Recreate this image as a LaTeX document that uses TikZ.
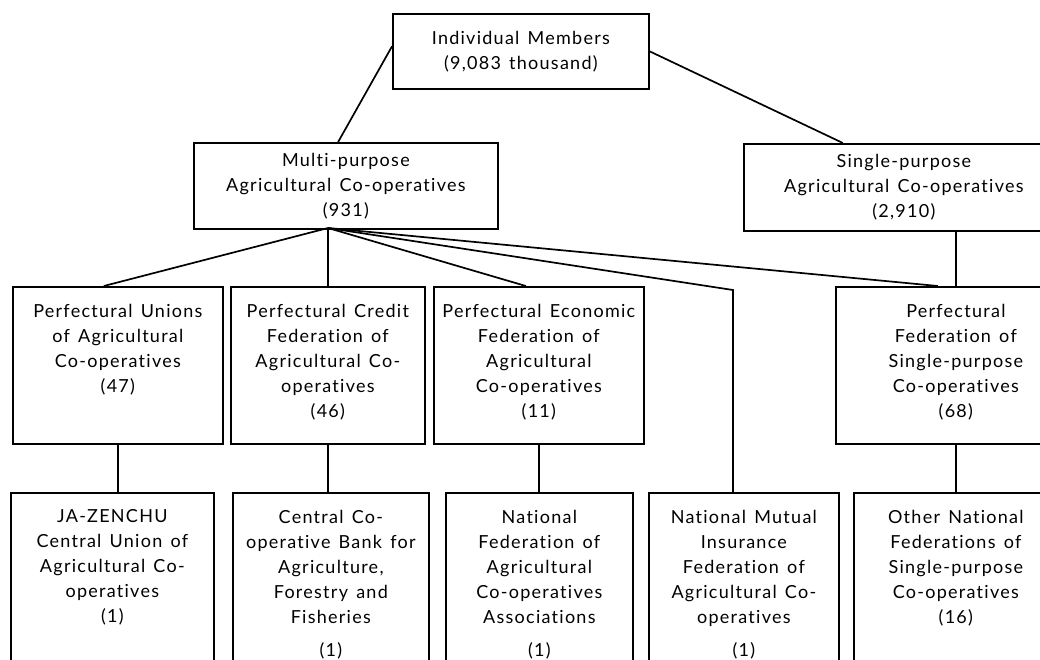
\documentclass[tikz,border=0pt]{standalone}
\usepackage{fontspec}
\setmainfont{Lato}[LetterSpace=7,WordSpace=1.4,Ligatures={NoCommon,NoRare}]
\newcommand{\boxtext}[3]{\parbox[c][#2][t]{#1}{\centering\vspace*{17pt}#3}}
\tikzset{
	orgbox/.style={draw, line width=1.7pt, inner sep=0pt, anchor=north west, font=\fontsize{18}{25}\selectfont},
	headbox/.style={orgbox, align=center},
	link/.style={line width=1.7pt}
}
\begin{document}
\begin{tikzpicture}[x=1pt,y=-1pt]
	\useasboundingbox (0,0) rectangle (1040,659);
	\clip (0,0) rectangle (1040,659);
	\node [headbox, minimum width=256pt, minimum height=75pt] (members) at (392,13) {Individual Members\\(9,083 thousand)};
	\node [headbox, minimum width=304pt, minimum height=86pt] (multi) at (193,142) {Multi-purpose\\Agricultural Co-operatives\\(931)};
	\node [headbox, minimum width=320pt, minimum height=87pt] (single) at (743,143) {Single-purpose\\Agricultural Co-operatives\\(2,910)};
	\node [orgbox] (unions) at (12,286) {\boxtext{210pt}{157pt}{Perfectural Unions\\of Agricultural\\Co-operatives\\(47)}};
	\node [orgbox] (credit) at (230,286) {\boxtext{194pt}{157pt}{Perfectural Credit\\Federation of\\Agricultural Co-\\operatives\\(46)}};
	\node [orgbox] (economic) at (433,286) {\boxtext{210pt}{157pt}{Perfectural Economic\\Federation of\\Agricultural\\Co-operatives\\(11)}};
	\node [orgbox] (perf) at (835,286) {\boxtext{240pt}{157pt}{Perfectural\\Federation of\\Single-purpose\\Co-operatives\\(68)}};
	\node [orgbox] (ja) at (10,492) {\boxtext{203pt}{200pt}{JA-ZENCHU\\Central Union of\\Agricultural Co-\\operatives\\(1)}};
	\node [orgbox] (central) at (232,492) {\boxtext{196pt}{200pt}{Central Co-\\operative Bank for\\Agriculture,\\Forestry and\\Fisheries\\[8pt](1)}};
	\node [orgbox] (national) at (445,492) {\boxtext{187pt}{200pt}{National\\Federation of\\Agricultural\\Co-operatives\\Associations\\[8pt](1)}};
	\node [orgbox] (mutual) at (648,492) {\boxtext{190pt}{200pt}{National Mutual\\Insurance\\Federation of\\Agricultural Co-\\operatives\\[8pt](1)}};
	\node [orgbox] (other) at (853,492) {\boxtext{204pt}{200pt}{Other National\\Federations of\\Single-purpose\\Co-operatives\\(16)}};
	\coordinate (hub) at (328,228);
	\coordinate (bend) at (733,290);
	\draw [link] ([yshift=5pt]members.west) -- (multi.100);
	\draw [link] (members.east) -- ([xshift=-61pt]single.north);
	\draw [link] (hub) -- ([xshift=-14pt]unions.north);
	\draw [link] (hub) -- (hub |- credit.north);
	\draw [link] (hub) -- ([xshift=-13pt]economic.north);
	\draw [link] (hub) -- (bend) -- (bend |- mutual.north);
	\draw [link] (hub) -- ([xshift=-18pt]perf.north);
	\draw [link] (perf.north |- single.south) -- (perf.north);
	\draw [link] (unions.south) -- (unions.south |- ja.north);
	\draw [link] (credit.south) -- (credit.south |- central.north);
	\draw [link] (economic.south) -- (economic.south |- national.north);
	\draw [link] (perf.south) -- (perf.south |- other.north);
\end{tikzpicture}
\end{document}
